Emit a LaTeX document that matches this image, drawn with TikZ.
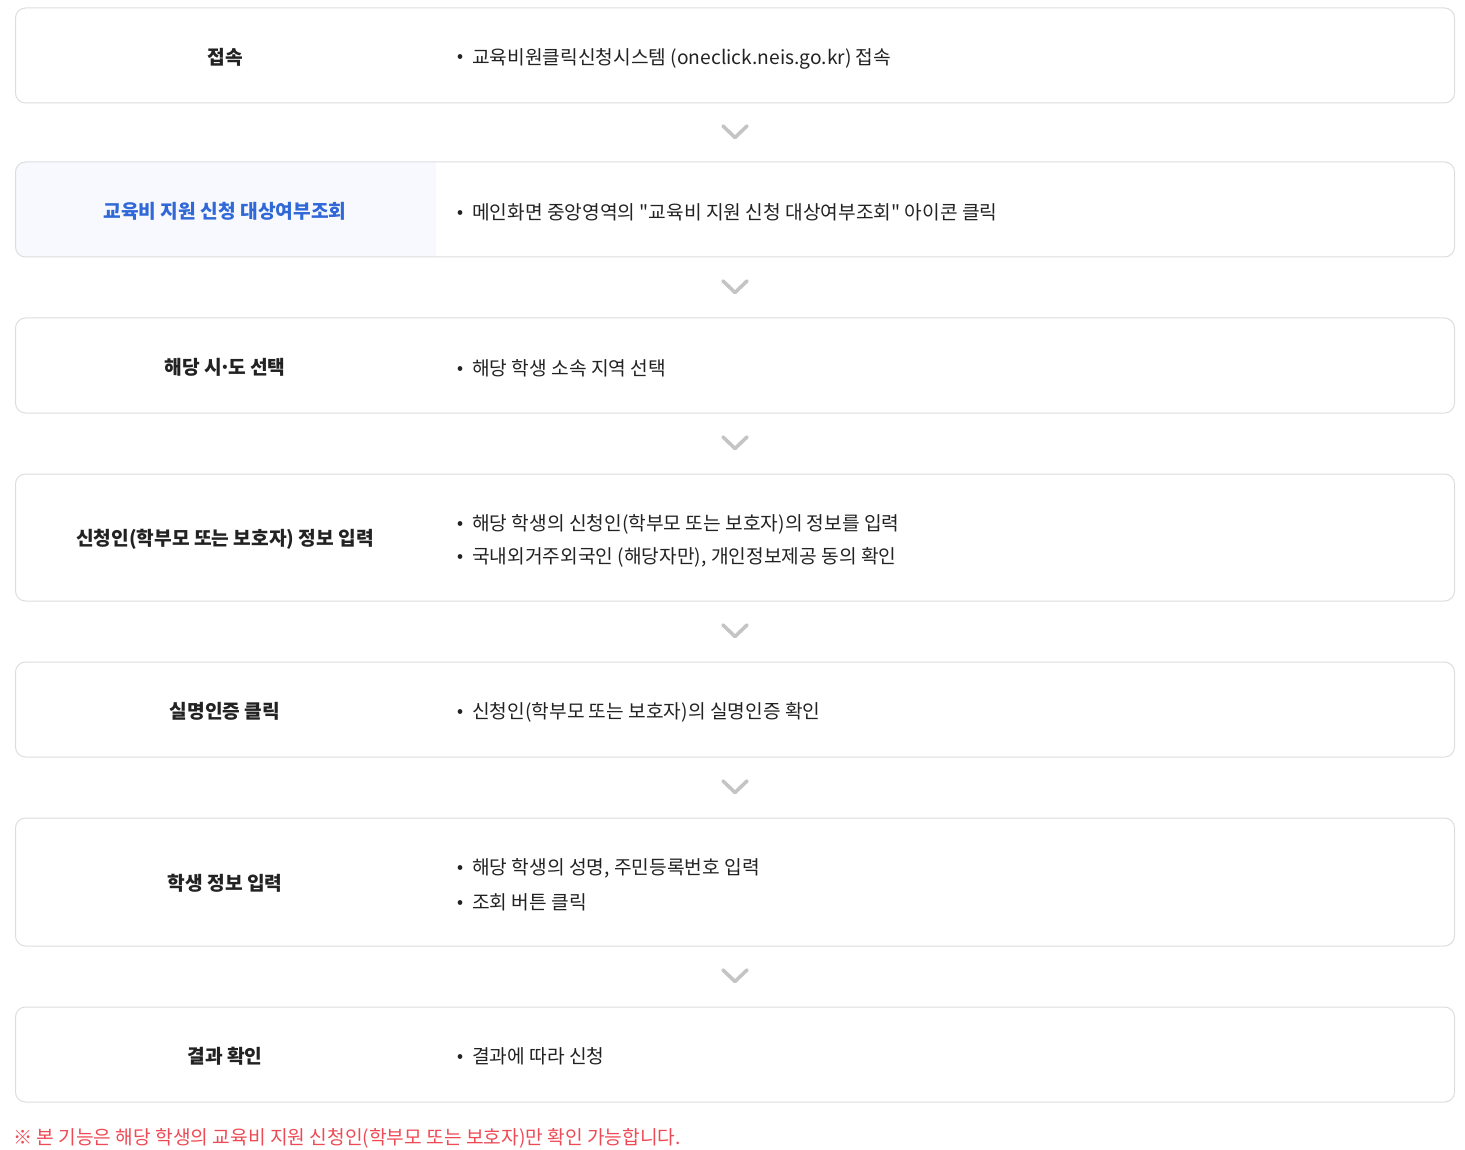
\documentclass[tikz,border=0pt]{standalone}
\usepackage{fontspec}
\usepackage{tikz}
\usetikzlibrary{calc}
\setmainfont{Noto Sans CJK KR}
\definecolor{linegray}{HTML}{DDDDDD}
\definecolor{arrowgray}{HTML}{C4C4C4}
\definecolor{titleblue}{HTML}{3068D8}
\definecolor{hlblue}{HTML}{F7F9FE}
\definecolor{textdark}{HTML}{222222}
\definecolor{notered}{HTML}{EE4A55}
\newcommand{\bul}{\makebox[15pt][l]{\raisebox{2.5pt}{\fontsize{15}{15}\selectfont\bfseries •}}}

\begin{document}
\begin{tikzpicture}[x=1pt,y=-1pt,
    stepbox/.style={draw=linegray,line width=1pt,rounded corners=10pt,
      minimum width=1439pt,inner sep=0pt},
    title/.style={font=\fontsize{19.2}{23}\selectfont\bfseries,text=textdark},
    item/.style={anchor=west,inner sep=0pt,font=\fontsize{19.2}{23}\selectfont,text=textdark},
    chev/.style={draw=arrowgray,line width=3.6pt,line cap=round,line join=round}]
    \useasboundingbox (0,0) rectangle (1465,1150);
    % Highlighted left half of the second box
    \begin{scope}
      \clip[rounded corners=10pt] (15.5,162) rectangle (1454.5,257);
      \fill[hlblue] (15.5,162) rectangle (436,257);
    \end{scope}
    % Boxes
    \node[stepbox,minimum height=95pt] (b1) at (735,55.5) {};
    \node[stepbox,minimum height=95pt] (b2) at (735,209.5) {};
    \node[stepbox,minimum height=95pt] (b3) at (735,365.5) {};
    \node[stepbox,minimum height=127pt] (b4) at (735,537.5) {};
    \node[stepbox,minimum height=95pt] (b5) at (735,709.5) {};
    \node[stepbox,minimum height=128pt] (b6) at (735,882) {};
    \node[stepbox,minimum height=95pt] (b7) at (735,1054.5) {};
    % Titles
    \node[title] (t1) at (225,57) {접속};
    \node[title,text=titleblue] (t2) at (225,211) {교육비 지원 신청 대상여부조회};
    \node[title] (t3) at (225,367) {해당 시\makebox[6pt]{·}도 선택};
    \node[title] (t4) at (225,539) {신청인(학부모 또는 보호자) 정보 입력};
    \node[title] (t5) at (225,711) {실명인증 클릭};
    \node[title] (t6) at (225,883.5) {학생 정보 입력};
    \node[title] (t7) at (225,1056) {결과 확인};
    % Items
    \node[item] (i1) at (457,58.5) {\bul 교육비원클릭신청시스템 (oneclick.neis.go.kr) 접속};
    \node[item] (i2) at (457,212.5) {\bul 메인화면 중앙영역의 \textquotedbl 교육비 지원 신청 대상여부조회\textquotedbl{} 아이콘 클릭};
    \node[item] (i3) at (457,368.5) {\bul 해당 학생 소속 지역 선택};
    \node[item] (i4a) at (457,524.5) {\bul 해당 학생의 신청인(학부모 또는 보호자)의 정보를 입력};
    \node[item] (i4b) at (457,557.5) {\bul 국내외거주외국인 (해당자만), 개인정보제공 동의 확인};
    \node[item] (i5) at (457,712.5) {\bul 신청인(학부모 또는 보호자)의 실명인증 확인};
    \node[item] (i6a) at (457,868.5) {\bul 해당 학생의 성명, 주민등록번호 입력};
    \node[item] (i6b) at (457,902.5) {\bul 조회 버튼 클릭};
    \node[item] (i7) at (457,1056.5) {\bul 결과에 따라 신청};
    % Chevrons between the boxes
    \foreach \a/\b in {b1/b2,b2/b3,b3/b4,b4/b5,b5/b6,b6/b7}{
      \coordinate (m) at ($(\a.south)!0.5!(\b.north)$);
      \draw[chev] ($(m)+(-12,-6.5)$) -- ($(m)+(0,5)$) -- ($(m)+(12,-6.5)$);
    }
    % Note
    \node[item,text=notered] (note) at (13,1138.5) {※ 본 기능은 해당 학생의 교육비 지원 신청인(학부모 또는 보호자)만 확인 가능합니다.};
\end{tikzpicture}
\end{document}
